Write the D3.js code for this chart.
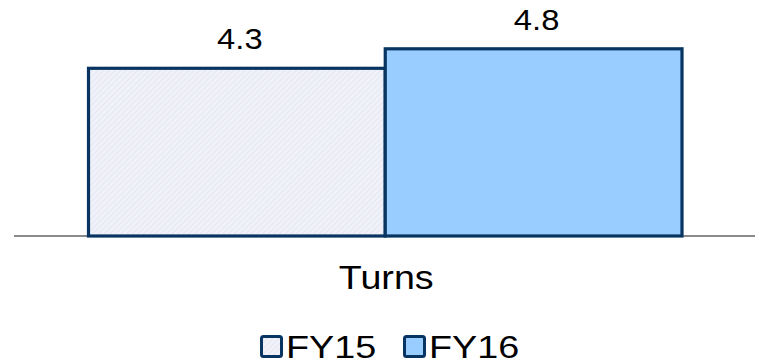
<!DOCTYPE html>
<html>
<head>
<meta charset="utf-8">
<script src="https://cdn.jsdelivr.net/npm/d3@7"></script>
<style>
  html, body { margin: 0; padding: 0; background: #fff; }
  svg { display: block; font-family: "Liberation Sans", Arial, sans-serif; }
</style>
</head>
<body>
<svg id="chart" width="759" height="364"></svg>
<script>
// Inventory turns by fiscal year
const categories = ["Turns"];
const seriesNames = ["FY15", "FY16"];
const seriesValues = [4.3, 4.8];
const valueLabels = ["4.3", "4.8"];

const W = 759, H = 364;
const svg = d3.select("#chart");

const stroke = "#083462";
const fills = ["url(#hatch)", "#99ccff"];

// Light hatched fill for the earlier year
const defs = svg.append("defs");
const pat = defs.append("pattern")
  .attr("id", "hatch")
  .attr("patternUnits", "userSpaceOnUse")
  .attr("width", 4).attr("height", 4)
  .attr("patternTransform", "rotate(45)");
pat.append("rect").attr("width", 4).attr("height", 4).attr("fill", "#f1f2f9");
pat.append("line").attr("x1", 0).attr("y1", 0).attr("x2", 0).attr("y2", 4)
  .attr("stroke", "#dcdfee").attr("stroke-width", 1.2);

const baseY = 236;
const y = d3.scaleLinear().domain([0, 6]).range([baseY, baseY - 6 * 39]);
const x0 = d3.scaleBand().domain(categories).range([88.5, 682]).padding(0);
const x1 = d3.scaleBand().domain(seriesNames).range([0, x0.bandwidth()]).padding(0);

// Category axis line
svg.append("line")
  .attr("x1", 14).attr("x2", 755)
  .attr("y1", baseY).attr("y2", baseY)
  .attr("stroke", "#8a8a8a").attr("stroke-width", 2);

const bars = seriesNames.map((s, i) => ({ s, v: seriesValues[i], label: valueLabels[i], fill: fills[i] }));

const g = svg.append("g").attr("transform", `translate(${x0(categories[0])},0)`);

// Adjacent bars share their boundary stroke
g.selectAll("rect.bar").data(bars).join("rect")
  .attr("class", "bar")
  .attr("x", d => x1(d.s))
  .attr("width", x1.bandwidth())
  .attr("y", d => y(d.v))
  .attr("height", d => baseY - y(d.v))
  .attr("fill", d => d.fill)
  .attr("stroke", stroke)
  .attr("stroke-width", 3.2);

g.selectAll("text.val").data(bars).join("text")
  .attr("class", "val")
  .attr("transform", d => `translate(${x1(d.s) + x1.bandwidth() / 2 + 3},${y(d.v) - 19}) scale(1.13,1)`)
  .attr("text-anchor", "middle")
  .attr("font-size", 29)
  .attr("fill", "#000")
  .text(d => d.label);

// Category label
svg.append("text")
  .attr("transform", `translate(${x0(categories[0]) + x0.bandwidth() / 2 + 1},289) scale(1.14,1)`)
  .attr("text-anchor", "middle")
  .attr("font-size", 33)
  .text(categories[0]);

// Legend
const legendX = [260, 403];
const lg = svg.append("g");
bars.forEach((d, i) => {
  lg.append("rect")
    .attr("x", legendX[i] + 1.5).attr("y", 336.5)
    .attr("width", 20).attr("height", 20)
    .attr("rx", 2)
    .attr("fill", d.fill)
    .attr("stroke", stroke).attr("stroke-width", 3);
  lg.append("text")
    .attr("transform", `translate(${legendX[i] + 26},358) scale(1.18,1)`)
    .attr("font-size", 32)
    .text(d.s);
});
</script>
</body>
</html>
